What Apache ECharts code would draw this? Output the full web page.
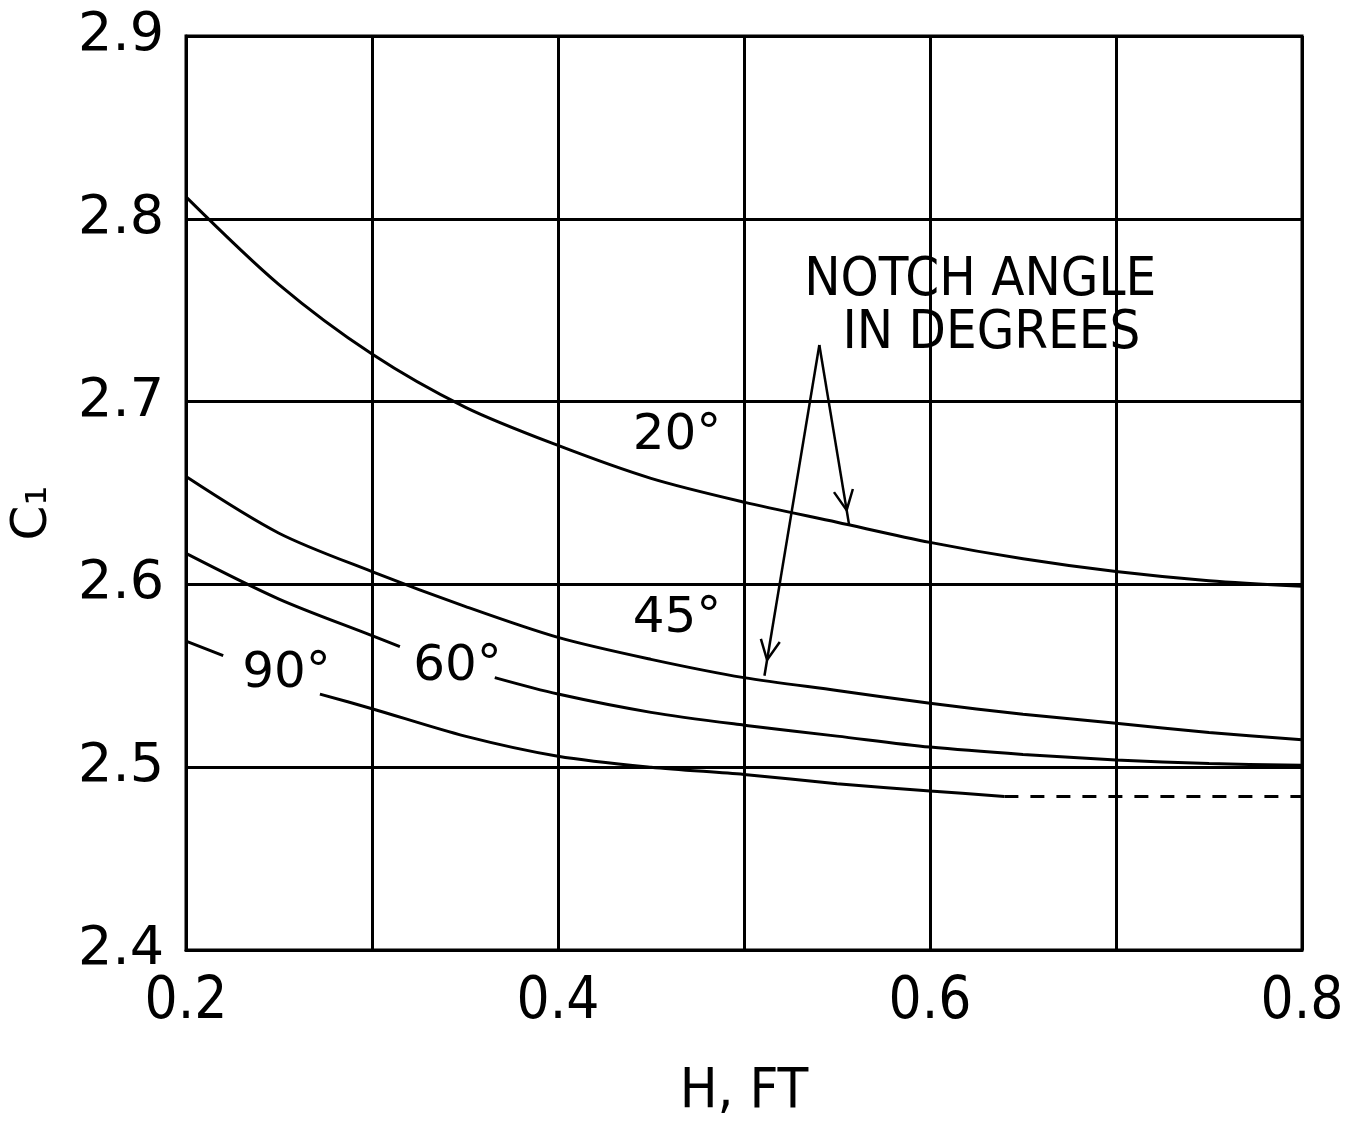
<!DOCTYPE html>
<html>
<head>
<meta charset="utf-8">
<script src="https://cdn.jsdelivr.net/npm/echarts@6/dist/echarts.min.js"></script>
<style>
  html, body { margin: 0; padding: 0; background: #fff; overflow: hidden; }
  #chart { width: 100vw; height: 100vh; }
</style>
</head>
<body>
<div id="chart"></div>
<script>
// ---- Data ----
const xTickLabels = ['0.2', '0.4', '0.6', '0.8'];
const yTickLabels = ['2.4', '2.5', '2.6', '2.7', '2.8', '2.9'];

const curve20 = [[0.2, 2.812], [0.25, 2.764], [0.3, 2.726], [0.35, 2.697],
  [0.4, 2.676], [0.45, 2.658], [0.5, 2.645], [0.55, 2.634], [0.6, 2.623], [0.65, 2.614],
  [0.7, 2.607], [0.75, 2.602], [0.8, 2.599]];
const curve45 = [[0.2, 2.659], [0.25, 2.628], [0.3, 2.607], [0.35, 2.588], [0.4, 2.571],
  [0.45, 2.559], [0.5, 2.549], [0.55, 2.542], [0.6, 2.535], [0.65, 2.529], [0.7, 2.524],
  [0.75, 2.519], [0.8, 2.515]];
const curve60 = [[0.2, 2.617], [0.25, 2.592], [0.3, 2.572], [0.315, 2.566], [0.34, null],
  [0.366, 2.549], [0.4, 2.540], [0.45, 2.530], [0.5, 2.523], [0.55, 2.517], [0.6, 2.511],
  [0.65, 2.507], [0.7, 2.504], [0.75, 2.502], [0.8, 2.501]];
const curve90 = [[0.2, 2.569], [0.22, 2.561], [0.25, null], [0.272, 2.540], [0.3, 2.532], [0.35, 2.517],
  [0.4, 2.506], [0.45, 2.500], [0.5, 2.496], [0.55, 2.491], [0.6, 2.487], [0.64, 2.484]];
const curve90Dashed = [[0.64, 2.484], [0.8, 2.484]];

const curveLabels = [
  { text: '20°', at: [0.464, 2.681] },
  { text: '45°', at: [0.464, 2.581] },
  { text: '60°', at: [0.346, 2.555] },
  { text: '90°', at: [0.254, 2.551] }
];
const noteLines = [
  { text: 'NOTCH ANGLE', at: [0.627, 2.766] },
  { text: 'IN DEGREES', at: [0.633, 2.737] }
];
const arrowStart = [0.5405, 2.731];
const arrowEnds = [[0.5566, 2.632], [0.511, 2.550]];

// ---- Chart ----
const chart = echarts.init(document.getElementById('chart'), null, { renderer: 'canvas' });
const black = '#000';
const lineSeries = (data, dashed) => ({
  type: 'line', data: data, smooth: dashed ? false : 0.3, symbol: 'none', connectNulls: false,
  lineStyle: { color: black, width: 3, type: dashed ? [14, 12] : 'solid' },
  silent: true, z: 5
});

chart.setOption({
  animation: false,
  backgroundColor: '#fff',
  grid: { left: 183, right: 56, top: 36, bottom: 165, show: true, borderColor: black, borderWidth: 3, backgroundColor: 'transparent' },
  xAxis: {
    type: 'value', min: 0.2, max: 0.8, interval: 0.1,
    name: 'H, FT', nameLocation: 'middle', nameGap: 114,
    nameTextStyle: { fontFamily: 'DejaVu Sans Condensed, sans-serif', fontSize: 56, color: black },
    axisLine: { show: true, lineStyle: { color: black, width: 3 } },
    axisTick: { show: false },
    splitLine: { show: true, lineStyle: { color: black, width: 3 } },
    axisLabel: {
      margin: 24, color: black, fontSize: 58,
      fontFamily: 'DejaVu Sans Condensed, sans-serif',
      formatter: v => { const s = v.toFixed(1); return xTickLabels.includes(s) ? s : ''; }
    }
  },
  yAxis: {
    type: 'value', min: 2.4, max: 2.9, interval: 0.1,
    name: 'C₁', nameLocation: 'middle', nameGap: 128, nameRotate: 90,
    nameTextStyle: { fontFamily: 'DejaVu Sans, sans-serif', fontSize: 50, color: black, padding: [0, 40, 0, 0] },
    axisLine: { show: true, lineStyle: { color: black, width: 3 } },
    axisTick: { show: false },
    splitLine: { show: true, lineStyle: { color: black, width: 3 } },
    axisLabel: {
      margin: 22, color: black, fontSize: 54, fontFamily: 'DejaVu Sans, sans-serif',
      formatter: v => { const s = v.toFixed(1); return yTickLabels.includes(s) ? s : ''; }
    }
  },
  series: [lineSeries(curve20), lineSeries(curve45), lineSeries(curve60), lineSeries(curve90), lineSeries(curve90Dashed, true)]
});

// ---- Annotations placed through the axes' own scales ----
const px = p => chart.convertToPixel({ gridIndex: 0 }, p);
const g = [];
curveLabels.forEach(l => {
  const p = px(l.at);
  g.push({ type: 'text', x: p[0], y: p[1], z: 10,
    style: { text: l.text, fill: black, font: '50px "DejaVu Sans", sans-serif', align: 'center', verticalAlign: 'middle' } });
});
noteLines.forEach(l => {
  const p = px(l.at);
  g.push({ type: 'text', x: p[0], y: p[1], z: 10,
    style: { text: l.text, fill: black, font: '54px "DejaVu Sans Condensed", sans-serif', align: 'center', verticalAlign: 'middle' } });
});
const s = px(arrowStart);
arrowEnds.forEach(e => {
  const t = px(e);
  g.push({ type: 'line', z: 10, shape: { x1: s[0], y1: s[1], x2: t[0], y2: t[1] }, style: { stroke: black, lineWidth: 2.5 } });
  const dx = t[0] - s[0], dy = t[1] - s[1], L = Math.hypot(dx, dy), ux = dx / L, uy = dy / L;
  const back = 22, spread = 0.45, tipOff = 16;
  const tip = [t[0] - ux * tipOff, t[1] - uy * tipOff];
  const ang = Math.atan2(uy, ux);
  const b1 = [tip[0] - back * Math.cos(ang - spread), tip[1] - back * Math.sin(ang - spread)];
  const b2 = [tip[0] - back * Math.cos(ang + spread), tip[1] - back * Math.sin(ang + spread)];
  g.push({ type: 'polyline', z: 10, shape: { points: [b1, tip, b2] }, style: { stroke: black, lineWidth: 2.5, fill: null } });
});
chart.setOption({ graphic: g });
</script>
</body>
</html>
